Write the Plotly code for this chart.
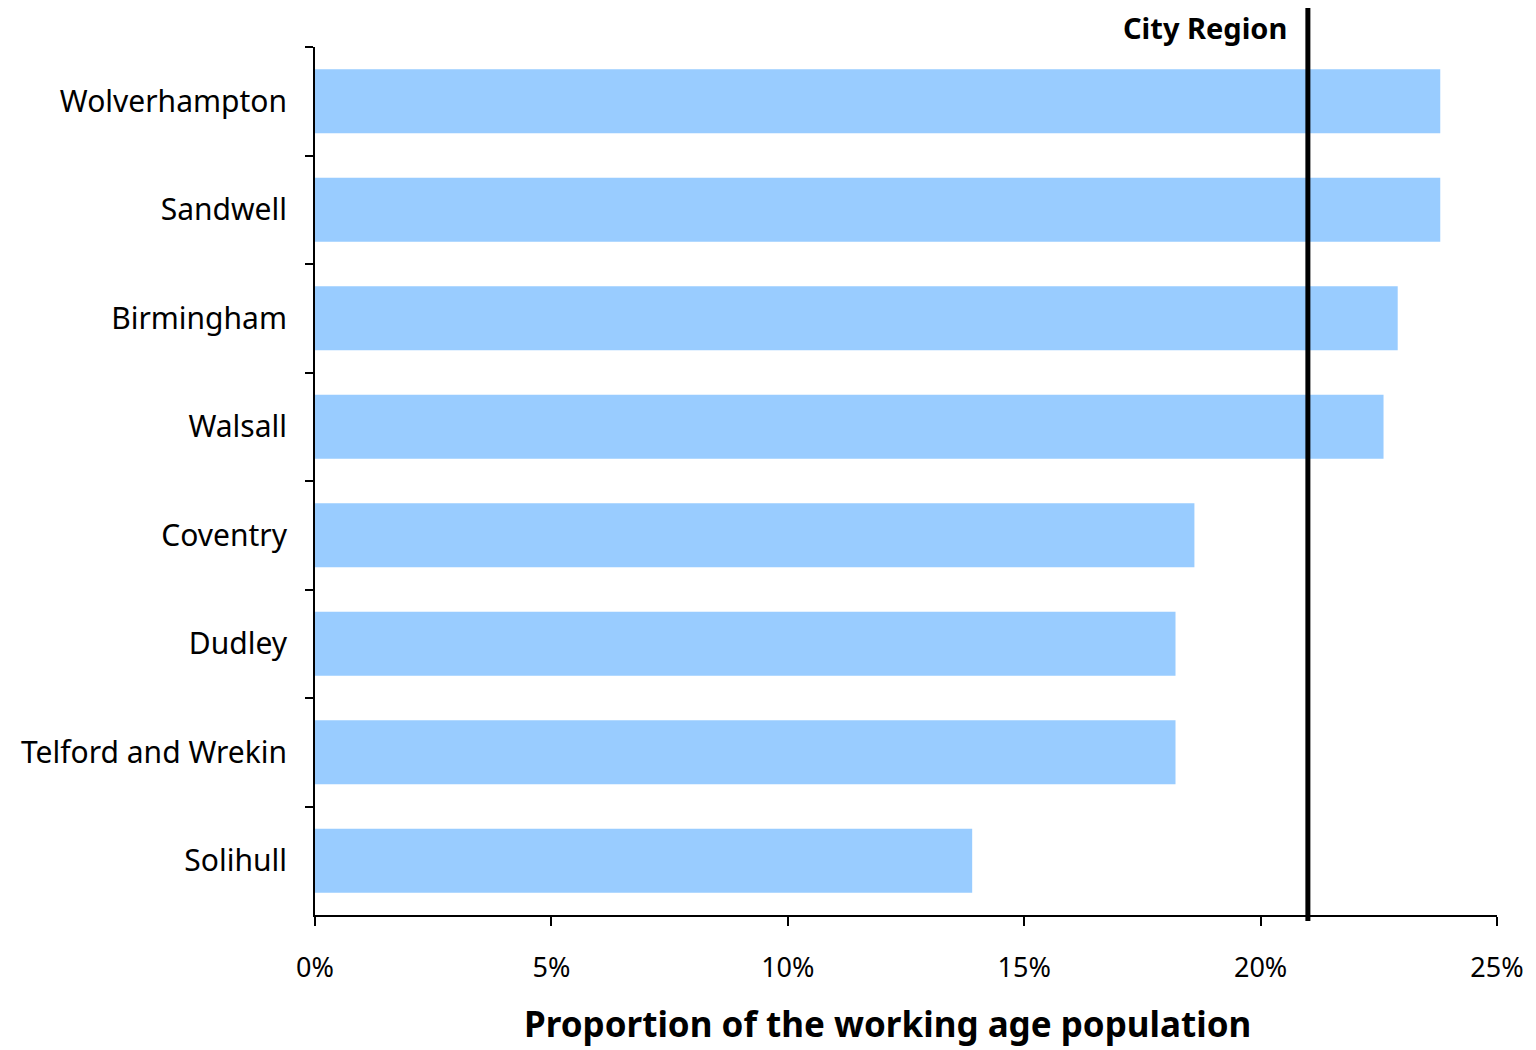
import plotly.graph_objects as go

categories = ["Wolverhampton", "Sandwell", "Birmingham", "Walsall", "Coventry",
              "Dudley", "Telford and Wrekin", "Solihull"]
values = [23.8, 23.8, 22.9, 22.6, 18.6, 18.2, 18.2, 13.9]
city_region_value = 21.0
city_region_label = "City Region"
x_tickvals = [0, 5, 10, 15, 20, 25]
x_ticklabels = ["0%", "5%", "10%", "15%", "20%", "25%"]
x_title = "Proportion of the working age population"

FONT = "Noto Sans, DejaVu Sans, sans-serif"

fig = go.Figure()
fig.add_trace(go.Bar(
    y=categories, x=values, orientation="h",
    marker=dict(color="#99CCFF", line=dict(width=0)),
    showlegend=False, hoverinfo="x+y",
))

fig.add_shape(type="line", xref="x", yref="paper",
              x0=city_region_value, x1=city_region_value, y0=-0.007, y1=1.045,
              line=dict(color="black", width=5))
fig.add_annotation(x=city_region_value, xref="x", y=1.022, yref="paper",
                   text="<b>" + city_region_label + "</b>", showarrow=False,
                   xanchor="right", yanchor="middle", xshift=-19,
                   font=dict(family=FONT, size=29, color="black"))
fig.add_annotation(x=0.4843, xref="paper", y=-0.1245, yref="paper",
                   text="<b>" + x_title + "</b>", showarrow=False,
                   xanchor="center", yanchor="middle",
                   font=dict(family=FONT, size=35, color="black"))

fig.update_layout(
    width=1536, height=1050,
    margin=dict(l=307, r=47, t=39, b=143),
    paper_bgcolor="white", plot_bgcolor="white",
    bargap=0.41,
    font=dict(family=FONT, size=28, color="black"),
)
fig.update_xaxes(
    range=[0, 25], tickvals=x_tickvals, ticktext=x_ticklabels,
    showline=True, linecolor="black", linewidth=2,
    ticks="outside", ticklen=9, tickwidth=2, tickcolor="black",
    showgrid=False, zeroline=False,
    ticklabelstandoff=19,
    tickfont=dict(family=FONT, size=27),
)
fig.update_yaxes(
    autorange="reversed", categoryorder="array", categoryarray=categories,
    showline=True, linecolor="black", linewidth=2,
    ticks="outside", ticklen=8, tickwidth=2, tickcolor="black",
    tickson="boundaries", showgrid=False, zeroline=False,
    ticklabelstandoff=20,
    tickfont=dict(family=FONT, size=30),
)

fig.write_html("out.html")
